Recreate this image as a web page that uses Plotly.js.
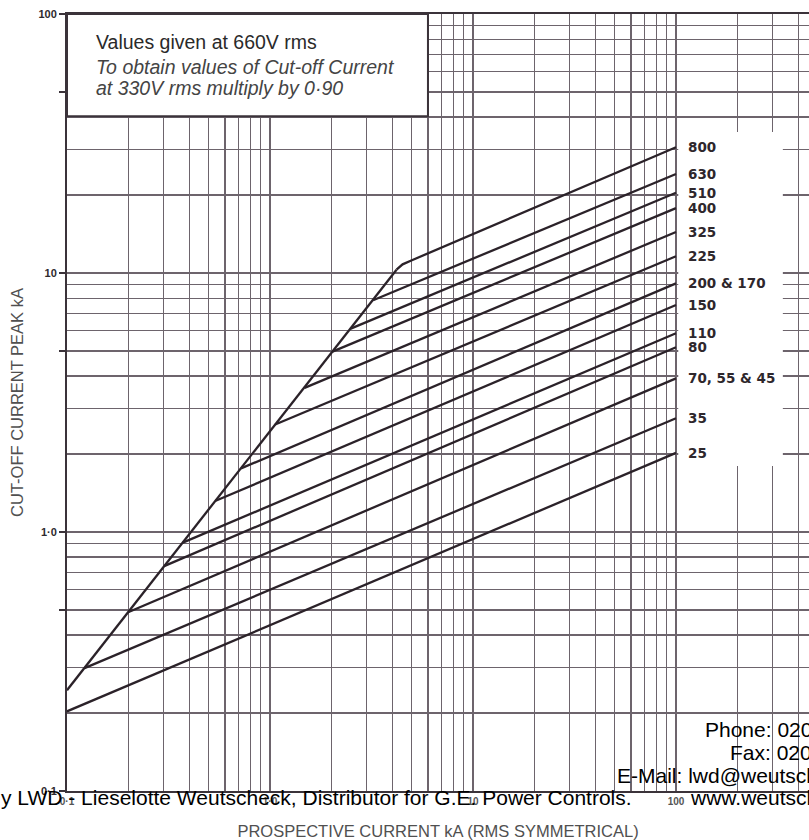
<!DOCTYPE html>
<html>
<head>
<meta charset="utf-8">
<script src="https://cdn.plot.ly/plotly-3.0.1.min.js"></script>
<style>
  html, body { margin: 0; padding: 0; background: #ffffff; }
  #chart { width: 809px; height: 840px; }
</style>
</head>
<body>
<div id="chart"></div>
<script>
// Cut-off current characteristics, values at 660V rms (log-log).
const ratingLabels = ['800', '630', '510', '400', '325', '225', '200 & 170', '150', '110', '80', '70, 55 & 45', '35', '25'];
// point where each rating leaves the limiting (unrestricted peak) line, kA
const startX = [4.2, 3.22, 2.50, 2.03, 1.48, 1.06, 0.72, 0.54, 0.372, 0.303, 0.2, 0.122, 0.1];
const startY = [10.3, 7.85, 6.1, 4.97, 3.6, 2.6, 1.76, 1.32, 0.91, 0.74, 0.49, 0.298, 0.203];
// cut-off current at 100 kA prospective
const endCurrent = 100;
const endY = [30.6, 24.1, 20.4, 17.8, 14.4, 11.6, 9.12, 7.52, 5.85, 5.17, 3.92, 2.75, 2.02];
// rounded shoulder of the 800 curve
const shoulderX = [4.5, 5.0];
const shoulderY = [10.8, 11.2];
// limiting line
const limitX = [0.1, 4.2];
const limitY = [0.245, 10.3];

// grid values
const xMinor = [0.2, 0.3, 0.4, 0.5, 0.6, 0.7, 0.8, 0.9, 2, 3, 4, 5, 6, 7, 8, 9, 20, 30, 40, 50, 60, 70, 80, 90, 200, 300, 400];
const yMinor = [0.2, 0.3, 0.4, 0.6, 0.7, 0.8, 0.9, 2, 3, 4, 6, 7, 8, 9, 20, 30, 40, 60, 70, 80, 90];
const xTickVals = [0.1, 1, 10, 100];
const xTickText = ['0·1', '1·0', '10', '100'];
const yTickVals = [0.1, 0.5, 1, 5, 10, 50, 100];
const yTickText = ['0·1', '', '1·0', '', '10', '', '100'];
const decadeX = [1, 10, 100];
const decadeY = [1, 10];

// figure geometry
const W = 809, H = 840;
const M = { l: 67, r: 0, t: 14, b: 49 };
const plotW = W - M.l - M.r, plotH = H - M.t - M.b;
const pxPerDecadeX = 203;
const xRange = [-1, -1 + plotW / pxPerDecadeX];
const yRange = [-1, 2];

const xp = v => (Math.log10(v) - xRange[0]) / (xRange[1] - xRange[0]);
const yp = v => (Math.log10(v) - yRange[0]) / (yRange[1] - yRange[0]);
const fx = px => (px - M.l) / plotW;
const fy = py => (M.t + plotH - py) / plotH;

const ink = '#2b2229';
const gridInk = '#6d646c';
const majorInk = '#3b333a';

const traces = [];
traces.push({
  x: limitX, y: limitY, type: 'scatter', mode: 'lines',
  line: { color: ink, width: 2.3 }, hoverinfo: 'skip', showlegend: false
});
ratingLabels.forEach((name, i) => {
  let xs = [startX[i], endCurrent];
  let ys = [startY[i], endY[i]];
  if (i === 0) {
    xs = [startX[i], ...shoulderX, endCurrent];
    ys = [startY[i], ...shoulderY, endY[i]];
  }
  traces.push({
    x: xs, y: ys, type: 'scatter', mode: 'lines', name: name,
    line: { color: ink, width: 2.3 }, hoverinfo: 'skip', showlegend: false
  });
});

const shapes = [];
decadeX.forEach(v => shapes.push({
  type: 'line', xref: 'paper', yref: 'paper', x0: xp(v), x1: xp(v), y0: 0, y1: 1,
  line: { color: majorInk, width: 2 }, layer: 'below'
}));
decadeY.forEach(v => shapes.push({
  type: 'line', xref: 'paper', yref: 'paper', x0: 0, x1: 1, y0: yp(v), y1: yp(v),
  line: { color: majorInk, width: 2 }, layer: 'below'
}));
// clear panel behind the rating labels
shapes.push({
  type: 'rect', xref: 'paper', yref: 'paper',
  x0: xp(102.6), x1: xp(336), y0: yp(1.8), y1: yp(35),
  fillcolor: '#ffffff', line: { width: 0 }, layer: 'above'
});
// note box
shapes.push({
  type: 'rect', xref: 'paper', yref: 'paper',
  x0: xp(0.1), x1: xp(6.0), y0: yp(40.3), y1: yp(100),
  fillcolor: '#ffffff', line: { color: majorInk, width: 2 }, layer: 'above'
});

const labelFont = { family: 'DejaVu Sans, sans-serif', size: 13.5, color: '#2e272c', weight: 'bold' };
const annotations = ratingLabels.map((name, i) => ({
  xref: 'paper', yref: 'paper', x: xp(endCurrent), y: yp(endY[i]),
  xshift: 10, xanchor: 'left', yanchor: 'middle', showarrow: false,
  text: name, font: labelFont
}));

const noteFont = { family: 'Liberation Sans, Arial, sans-serif', size: 19.5, color: '#2a2a2a' };
annotations.push(
  { xref: 'paper', yref: 'paper', x: fx(94), y: fy(42), xanchor: 'left', yanchor: 'middle', showarrow: false,
    text: 'Values given at 660V rms', font: noteFont },
  { xref: 'paper', yref: 'paper', x: fx(94), y: fy(67), xanchor: 'left', yanchor: 'middle', showarrow: false,
    text: '<i>To obtain values of Cut-off Current</i>', font: Object.assign({}, noteFont, { color: '#444' }) },
  { xref: 'paper', yref: 'paper', x: fx(94), y: fy(88.5), xanchor: 'left', yanchor: 'middle', showarrow: false,
    text: '<i>at 330V rms multiply by 0·90</i>', font: Object.assign({}, noteFont, { color: '#444' }) }
);

const footFont = { family: 'Liberation Sans, Arial, sans-serif', size: 21, color: '#000000' };
[
  ['Phone: 020', 703, 729],
  ['Fax: 020', 728, 752],
  ['E-Mail: lwd@weutsch', 615, 775.5],
  ['y LWD - Lieselotte Weutscheck, Distributor for G.E. Power Controls.', -1, 797],
  ['www.weutsch', 688, 797]
].forEach(([t, x, y]) => annotations.push({
  xref: 'paper', yref: 'paper', x: fx(x), y: fy(y), xanchor: 'left', yanchor: 'middle',
  showarrow: false, text: t, font: footFont
}));

const tickFont = { family: 'Liberation Sans, Arial, sans-serif', size: 11, color: '#2e2a2e', weight: 'bold' };
const titleFont = { family: 'Liberation Sans, Arial, sans-serif', size: 16.5, color: '#505050' };

const layout = {
  width: W, height: H, margin: M,
  paper_bgcolor: '#ffffff', plot_bgcolor: '#ffffff',
  showlegend: false,
  xaxis: {
    type: 'log', range: xRange, autorange: false, fixedrange: true,
    tickmode: 'array', tickvals: xTickVals, ticktext: xTickText,
    ticks: '', tickfont: Object.assign({}, tickFont, { size: 10, color: '#555' }),
    showgrid: true, gridcolor: gridInk, gridwidth: 1.2,
    minor: { tickmode: 'array', tickvals: xMinor, showgrid: true, gridcolor: gridInk, gridwidth: 1.2, ticks: '' },
    showline: true, linecolor: majorInk, linewidth: 2, mirror: true, zeroline: false,
    title: { text: 'PROSPECTIVE CURRENT kA (RMS SYMMETRICAL)', font: titleFont, standoff: 22 }
  },
  yaxis: {
    type: 'log', range: yRange, autorange: false, fixedrange: true,
    tickmode: 'array', tickvals: yTickVals, ticktext: yTickText,
    ticks: 'outside', ticklen: 6, tickwidth: 1.5, tickcolor: majorInk, tickfont: tickFont,
    showgrid: true, gridcolor: gridInk, gridwidth: 1.2,
    minor: { tickmode: 'array', tickvals: yMinor, showgrid: true, gridcolor: gridInk, gridwidth: 1.2, ticks: '' },
    showline: true, linecolor: majorInk, linewidth: 2, mirror: false, zeroline: false,
    title: { text: 'CUT-OFF CURRENT PEAK kA', font: titleFont, standoff: 11 }
  },
  shapes: shapes,
  annotations: annotations
};

Plotly.newPlot('chart', traces, layout, { displayModeBar: false, staticPlot: true });
</script>
</body>
</html>
